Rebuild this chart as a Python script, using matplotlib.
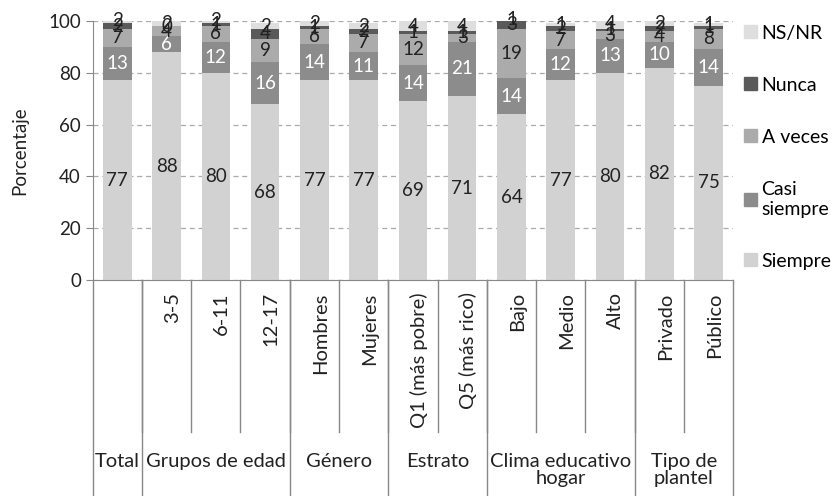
import numpy as np
import matplotlib
matplotlib.use('Agg')
import matplotlib.pyplot as plt
from matplotlib.patches import Patch

plt.rcParams['font.family'] = ['Lato', 'DejaVu Sans']

categorias = ['', '3-5', '6-11', '12-17', 'Hombres', 'Mujeres',
              'Q1 (más pobre)', 'Q5 (más rico)', 'Bajo', 'Medio', 'Alto',
              'Privado', 'Público']
grupos = ['Total', 'Grupos de edad', 'Género', 'Estrato',
          'Clima educativo\nhogar', 'Tipo de\nplantel']
grupo_tam = [1, 3, 2, 2, 3, 2]

siempre      = [77, 88, 80, 68, 77, 77, 69, 71, 64, 77, 80, 82, 75]
casi_siempre = [13,  6, 12, 16, 14, 11, 14, 21, 14, 12, 13, 10, 14]
a_veces      = [ 7,  4,  6,  9,  6,  7, 12,  3, 19,  7,  3,  4,  8]
nunca        = [ 2,  0,  1,  4,  1,  2,  1,  1,  3,  2,  1,  2,  1]
ns_nr        = [ 2,  2,  2,  2,  2,  2,  4,  4,  1,  1,  4,  2,  1]

series = [siempre, casi_siempre, a_veces, nunca, ns_nr]
nombres = ['Siempre', 'Casi\nsiempre', 'A veces', 'Nunca', 'NS/NR']
colores = ['#d2d2d2', '#8c8c8c', '#ababab', '#5a5a5a', '#dedede']
col_txt = ['#222222', 'white', '#222222', '#222222', '#222222']

fig = plt.figure(figsize=(8.35, 4.96), dpi=100)
ax = fig.add_axes([0.111, 0.435, 0.767, 0.523])

x = np.arange(len(categorias))
base = np.zeros(len(categorias))
for vals, nom, c, tc in zip(series, nombres, colores, col_txt):
    vals = np.array(vals, dtype=float)
    ax.bar(x, vals, 0.58, bottom=base, color=c, label=nom, zorder=2)
    for xi, b, v in zip(x, base, vals):
        ax.text(xi, b + v / 2, '%d' % v, ha='center', va='center',
                fontsize=13.5, color=tc, zorder=3, clip_on=False)
    base += vals

ax.set_xlim(-0.5, len(categorias) - 0.5)
ax.set_ylim(0, 100)
ax.set_yticks([0, 20, 40, 60, 80, 100])
ax.tick_params(axis='y', labelsize=13.5, color='#888888', length=5,
               labelcolor='#222222')
ax.set_ylabel('Porcentaje', fontsize=13.5, color='#222222', labelpad=14)
ax.yaxis.grid(True, linestyle=(0, (4, 3)), color='#aaaaaa', lw=0.9, zorder=0)
for s in ['top', 'right']:
    ax.spines[s].set_visible(False)
ax.spines['left'].set_color('#888888')
ax.spines['bottom'].set_color('#888888')
ax.set_xticks([])

# etiquetas de categoría y separadores
h = 259.0
tr = ax.get_xaxis_transform()
for i, cat in enumerate(categorias):
    ax.text(i + 0.12, -12 / h, cat, rotation=90, ha='center', va='top',
            fontsize=14.5, color='#222222', transform=tr)
    if i > 0:
        ax.plot([i - 0.5, i - 0.5], [0, -152 / h], color='#888888', lw=1,
                transform=tr, clip_on=False)

pos = -0.5
ax.plot([pos, pos], [0, -216 / h], color='#888888', lw=1,
        transform=tr, clip_on=False)
for g, n in zip(grupos, grupo_tam):
    ax.text(pos + n / 2, -172 / h, g, ha='center', va='top', fontsize=14.5,
            color='#222222', linespacing=1.0, transform=tr)
    pos += n
    ax.plot([pos, pos], [0, -216 / h], color='#888888', lw=1,
            transform=tr, clip_on=False)

handles = [Patch(color=c) for c in colores][::-1]
ax.legend(handles, nombres[::-1], loc='upper left',
          bbox_to_anchor=(1.005, 1.015), frameon=False, fontsize=14,
          handlelength=0.65, handleheight=0.65, handletextpad=0.25,
          labelspacing=1.8, borderaxespad=0)

fig.savefig('out.png', dpi=100)
